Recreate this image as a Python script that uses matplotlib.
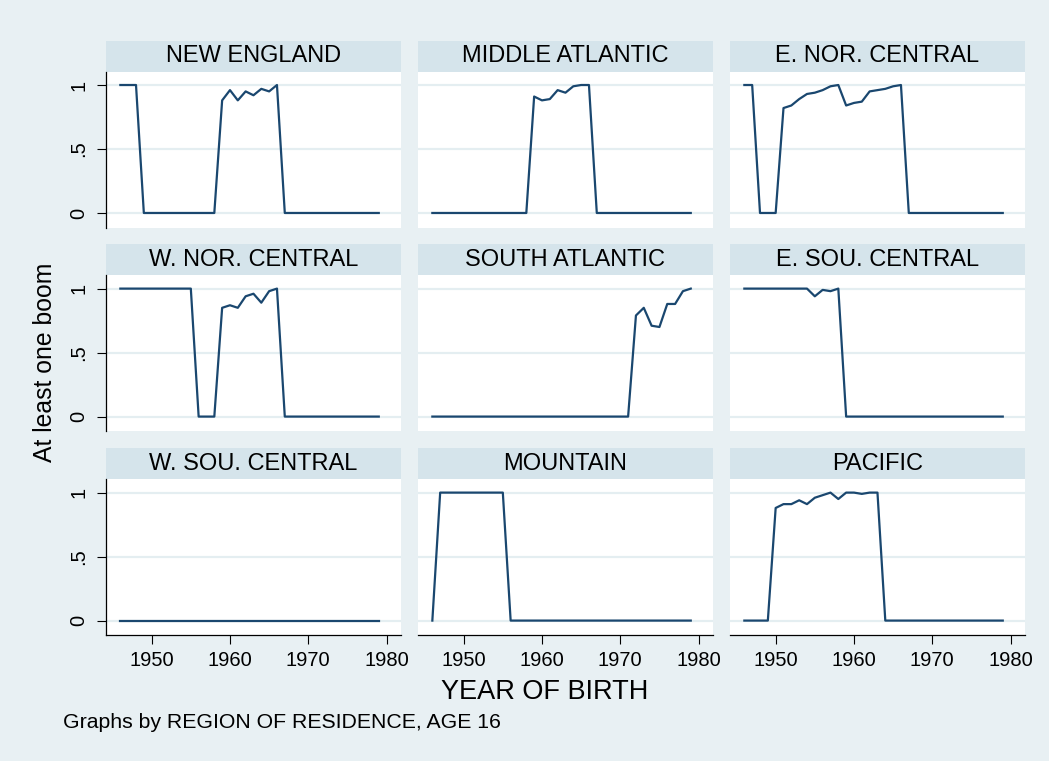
import numpy as np
import matplotlib
matplotlib.use("Agg")
import matplotlib.pyplot as plt

plt.rcParams['font.family'] = ['Liberation Sans', 'DejaVu Sans']

# ---- data: share with at least one boom, by birth year and region ----
years = list(range(1946, 1980))

regions = ["NEW ENGLAND", "MIDDLE ATLANTIC", "E. NOR. CENTRAL",
           "W. NOR. CENTRAL", "SOUTH ATLANTIC", "E. SOU. CENTRAL",
           "W. SOU. CENTRAL", "MOUNTAIN", "PACIFIC"]

# 1946 .. 1979
new_england = [1, 1, 1, 0, 0, 0, 0, 0, 0, 0, 0, 0, 0,
               0.88, 0.96, 0.88, 0.95, 0.92, 0.97, 0.95, 1.0,
               0, 0, 0, 0, 0, 0, 0, 0, 0, 0, 0, 0, 0]
middle_atlantic = [0, 0, 0, 0, 0, 0, 0, 0, 0, 0, 0, 0, 0,
                   0.91, 0.88, 0.89, 0.96, 0.94, 0.99, 1.0, 1.0,
                   0, 0, 0, 0, 0, 0, 0, 0, 0, 0, 0, 0, 0]
e_nor_central = [1, 1, 0, 0, 0,
                 0.82, 0.84, 0.89, 0.93, 0.94, 0.96, 0.99, 1.0,
                 0.84, 0.86, 0.87, 0.95, 0.96, 0.97, 0.99, 1.0,
                 0, 0, 0, 0, 0, 0, 0, 0, 0, 0, 0, 0, 0]
w_nor_central = [1, 1, 1, 1, 1, 1, 1, 1, 1, 1, 0, 0, 0,
                 0.85, 0.87, 0.85, 0.94, 0.96, 0.89, 0.98, 1.0,
                 0, 0, 0, 0, 0, 0, 0, 0, 0, 0, 0, 0, 0]
south_atlantic = [0] * 26 + [0.79, 0.85, 0.71, 0.70, 0.88, 0.88, 0.98, 1.0]
e_sou_central = [1, 1, 1, 1, 1, 1, 1, 1, 1, 0.94, 0.99, 0.98, 1.0] + [0] * 21
w_sou_central = [0] * 34
mountain = [0] + [1] * 9 + [0] * 24
pacific = [0, 0, 0, 0,
           0.88, 0.91, 0.91, 0.94, 0.91, 0.96, 0.98, 1.0, 0.95,
           1.0, 1.0, 0.99, 1.0, 1.0] + [0] * 16

series = [new_england, middle_atlantic, e_nor_central,
          w_nor_central, south_atlantic, e_sou_central,
          w_sou_central, mountain, pacific]

x_ticks = [1950, 1960, 1970, 1980]
y_ticks = [0, 0.5, 1]
y_tick_labels = ["0", ".5", "1"]

# ---- styling ----
W, H = 1049, 761
bg = "#e8f0f3"
strip_col = "#d5e4eb"
grid_col = "#e4eef1"
navy = "#1a476f"

col_left = [105.7, 417.7, 729.7]
col_w = 295.3
strip_top = [40.7, 244.3, 448.3]
strip_h = 31.0
plot_h = 156.0

fig = plt.figure(figsize=(W / 100, H / 100), dpi=100, facecolor=bg)


def fig_rect(x, y, w, h):
    return [x / W, 1 - (y + h) / H, w / W, h / H]


for i, (name, vals) in enumerate(zip(regions, series)):
    r, c = divmod(i, 3)
    x0 = col_left[c]
    ys = strip_top[r]

    # strip header
    sax = fig.add_axes(fig_rect(x0, ys, col_w, strip_h))
    sax.set_facecolor(strip_col)
    sax.set_xticks([])
    sax.set_yticks([])
    for s in sax.spines.values():
        s.set_visible(False)
    sax.text(0.5, 0.5, name, ha="center", va="center", fontsize=17,
             transform=sax.transAxes)

    # plot panel
    ax = fig.add_axes(fig_rect(x0, ys + strip_h, col_w, plot_h))
    ax.set_facecolor("white")
    for yv in y_ticks:
        ax.axhline(yv, color=grid_col, lw=1.6, zorder=1)
    ax.plot(years, vals, color=navy, lw=1.6, zorder=3)
    ax.set_xlim(1944.13, 1981.84)
    ax.set_ylim(-0.115, 1.104)

    for s in ax.spines.values():
        s.set_visible(False)

    ax.set_yticks(y_ticks)
    ax.set_xticks(x_ticks)
    ax.tick_params(axis="both", direction="out", length=6.5, width=0.8,
                   labelsize=14.5, colors="black")
    if c == 0:
        ax.spines["left"].set_visible(True)
        ax.spines["left"].set_linewidth(0.9)
        ax.set_yticklabels(y_tick_labels, rotation=90, va="center")
        ax.tick_params(axis="y", pad=6)
    else:
        ax.tick_params(axis="y", left=False, labelleft=False)
    if r == 2:
        ax.spines["bottom"].set_visible(True)
        ax.spines["bottom"].set_linewidth(0.9)
        ax.set_xticklabels([str(t) for t in x_ticks])
        ax.tick_params(axis="x", pad=5)
    else:
        ax.tick_params(axis="x", bottom=False, labelbottom=False)

fig.text(545 / W, 1 - 692 / H, "YEAR OF BIRTH", ha="center", va="center",
         fontsize=19.5)
fig.text(45 / W, 1 - 362 / H, "At least one boom", ha="center", va="center",
         rotation=90, fontsize=17.8)
fig.text(63 / W, 1 - 722 / H, "Graphs by REGION OF RESIDENCE, AGE 16",
         ha="left", va="center", fontsize=15.3)

fig.savefig("out.png", dpi=100, facecolor=bg)
